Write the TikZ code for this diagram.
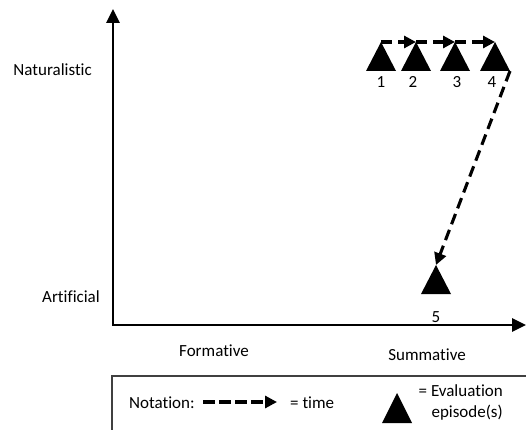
\documentclass[tikz,border=0pt]{standalone}
\usepackage{fontspec}
\setmainfont{Carlito}[Ligatures=NoCommon]
\usetikzlibrary{arrows.meta}
\begin{document}
\begin{tikzpicture}[x=1pt,y=1pt,
  lbl/.style={inner sep=0pt, font=\fontsize{17}{21}\selectfont},
  axis/.style={line width=2.6pt, {Triangle[length=14pt,width=13pt]}-{Triangle[length=14pt,width=13pt]}},
  timeflow/.style={line width=3.1pt, dash pattern=on 11pt off 6pt, -{Triangle[length=12pt,width=12pt]}},
  episode/.style={fill=black},
]
\useasboundingbox (0,0) rectangle (526,429);

% axes
\coordinate (ytop) at (113,420);
\coordinate (origin) at (113,104);
\coordinate (xend) at (526,104);
\draw[axis] (ytop) -- (origin) -- (xend);

% axis labels
\node[lbl, anchor=base east] (nat) at (92,353) {Naturalistic};
\node[lbl, anchor=base east] (art) at (100,127) {Artificial};
\node[lbl, anchor=base] (form) at (214,73) {Formative};
\node[lbl, anchor=base] (summ) at (427,69) {Summative};

% evaluation episodes (apex coordinates)
\coordinate (t1) at (381,387);
\coordinate (t2) at (416,387);
\coordinate (t3) at (455,387);
\coordinate (t4) at (495,387);
\coordinate (t5) at (436,164);
\foreach \t in {t1,t2,t3,t4,t5}
  \fill[episode] (\t) -- ++(-15,-29) -- ++(30,0) -- cycle;
\path (t4) ++(15,-29) coordinate (t4corner);

\node[lbl, anchor=base] (n1) at (381,341) {1};
\node[lbl, anchor=base] (n2) at (413,341) {2};
\node[lbl, anchor=base] (n3) at (457,341) {3};
\node[lbl, anchor=base] (n4) at (492,341) {4};
\node[lbl, anchor=base] (n5) at (436,107) {5};

% time flow between episodes
\draw[timeflow] (t1) -- (t2);
\draw[timeflow] (t2) -- (t3);
\draw[timeflow] (t3) -- (t4);
\draw[timeflow] (t4corner) -- (t5);

% notation box
\draw[line width=1.2pt, draw=black!75] (112,-10) -- (112,53) -- (540,53);
\node[lbl, anchor=base west] (notation) at (129,21) {Notation:};
\coordinate (la) at (203,27);
\coordinate (lb) at (277,27);
\draw[timeflow, dash pattern=on 12pt off 4pt] (la) -- (lb);
\node[lbl, anchor=base west] (time) at (290,21) {= time};
\coordinate (tl) at (397,36);
\fill[episode] (tl) -- ++(-15,-30) -- ++(30,0) -- cycle;
\node[lbl, anchor=base east] (ev1) at (503,33) {= Evaluation};
\node[lbl, anchor=base east] (ev2) at (503,12) {episode(s)};
\end{tikzpicture}
\end{document}
